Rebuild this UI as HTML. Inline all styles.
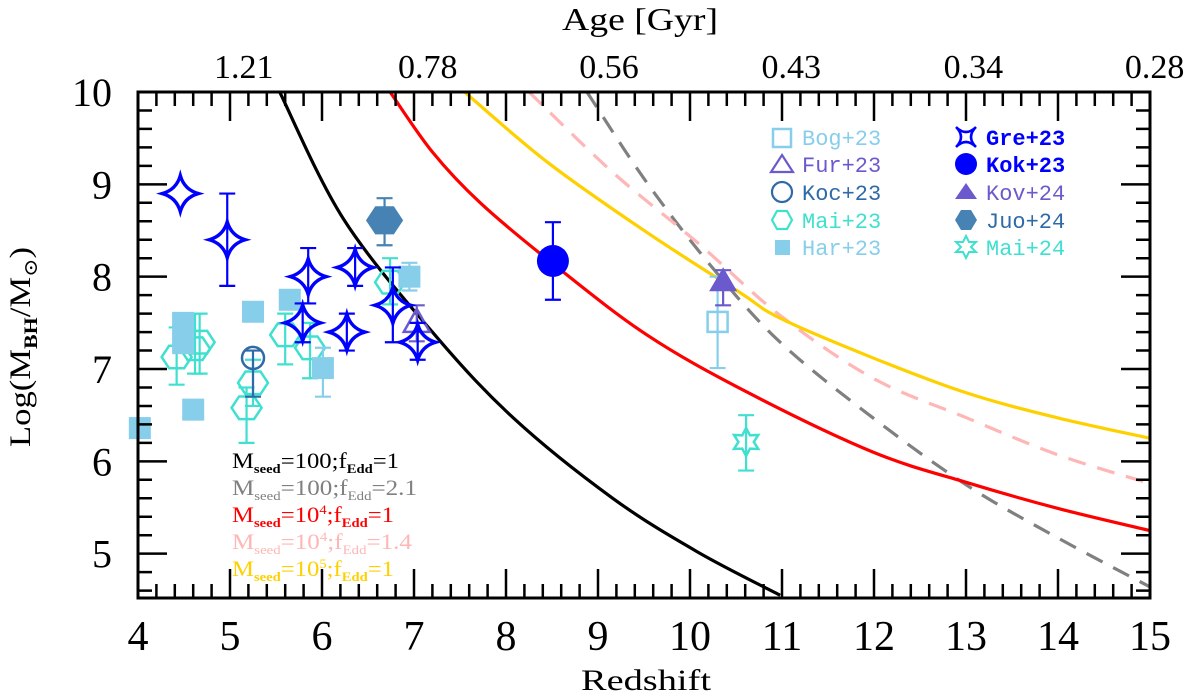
<!DOCTYPE html>
<html><head><meta charset="utf-8">
<style>
html,body{margin:0;padding:0;background:#fff;}
svg{display:block;}
text{font-family:"Liberation Serif","DejaVu Serif",serif;}
.mono{font-family:"Liberation Mono","DejaVu Sans Mono",monospace;}
</style></head>
<body>
<svg id="chart" width="1200" height="697" viewBox="0 0 1200 697" xmlns="http://www.w3.org/2000/svg">
<g id="curves"></g>
<g id="points"></g>
<g id="axes"></g>
<g id="legend"></g>
</svg>
<script>
// ---- axis domain ----
const xMin = 4, xMax = 15, yMin = 4.52, yMax = 10;
const xTicks = [4,5,6,7,8,9,10,11,12,13,14,15];
const yTicks = [5,6,7,8,9,10];
const ageLabels = ["1.21","0.78","0.56","0.43","0.34","0.28"];
const ageLabelZ = [5.15,7.15,9.12,11.1,13.08,15.05];

// ---- model curves (redshift, logM) ----
const blackZ = [5.54,6.23,7.20,8.08,9.16,10.08,10.98];
const blackY = [10,8.63,7.40,6.47,5.60,5.02,4.55];
const redZ = [6.74,7.2,7.72,8.51,9.53,10.62,11.99,13.01,14.0,15];
const redY = [10,9.35,8.8,8.14,7.37,6.75,6.10,5.77,5.49,5.25];
const goldZ = [7.55,8.45,9.53,10.54,10.98,11.99,13.01,14.0,15];
const goldY = [10,9.24,8.48,7.83,7.55,7.12,6.74,6.47,6.25];
const pinkZ = [8.25,9.16,10.08,10.98,11.99,13.01,14.0,15];
const pinkY = [10,9.13,8.37,7.58,6.90,6.47,6.07,5.76];
const grayZ = [8.88,9.53,10.25,10.98,11.99,13.01,14.0,15];
const grayY = [10,9.02,8.09,7.29,6.47,5.74,5.17,4.64];

// ---- observational data ----
const greZ = [4.46,4.97,5.85,5.79,6.36,6.27,6.77,7.04];
const greY = [8.90,8.40,8.00,7.50,8.10,7.40,7.69,7.29];
const greLo = [8.90,7.90,7.71,7.29,7.90,7.20,7.29,7.10];
const greHi = [8.90,8.90,8.31,7.71,8.31,7.60,8.10,7.50];
const harZ = [4.02,4.49,4.49,4.60,5.25,5.65,6.01,6.95];
const harY = [6.36,7.50,7.28,6.56,7.62,7.75,7.01,8.00];
const harLo = [6.36,7.50,7.28,6.56,7.62,7.75,6.70,7.85];
const harHi = [6.36,7.50,7.28,6.56,7.62,7.75,7.23,8.15];
const maiZ = [4.42,4.67,4.62,5.25,5.18,5.60,5.87,6.74];
const maiY = [7.13,7.29,7.22,6.85,6.58,7.37,7.23,7.94];
const maiLo = [6.83,6.95,6.95,6.60,6.20,7.05,6.90,7.70];
const maiHi = [7.45,7.60,7.60,7.10,6.80,7.60,7.50,8.20];
const kocZ = [5.25], kocY = [7.12], kocLo = [6.70], kocHi = [7.20];
const juoZ = [6.68], juoY = [8.61], juoLo = [8.34], juoHi = [8.85];
const furZ = [7.03], furY = [7.50], furLo = [7.30], furHi = [7.69];
const kokZ = [8.51], kokY = [8.17], kokLo = [7.75], kokHi = [8.59];
const kovZ = [10.36], kovY = [7.94], kovLo = [7.69], kovHi = [8.07];
const bogZ = [10.30], bogY = [7.51], bogLo = [7.01], bogHi = [8.00];
const mai24Z = [10.61], mai24Y = [6.21], mai24Lo = [5.90], mai24Hi = [6.50];

const L = 138, R = 1150, T = 92, B = 598;
const sx = z => L + (z - xMin) / (xMax - xMin) * (R - L);
const sy = v => B - (v - yMin) / (yMax - yMin) * (B - T);
const NS = "http://www.w3.org/2000/svg";
function mk(tag, attrs, parent){
  const e = document.createElementNS(NS, tag);
  for (const k in attrs) e.setAttribute(k, attrs[k]);
  parent.appendChild(e); return e;
}
const curves = document.getElementById('curves');
const points = document.getElementById('points');
const axes = document.getElementById('axes');

const defs = mk('defs', {}, document.getElementById('chart'));
const cp = mk('clipPath', {id:'plotclip'}, defs);
mk('rect', {x:L, y:T, width:R-L, height:B-T}, cp);
curves.setAttribute('clip-path','url(#plotclip)');

function catmull(zs, ys){
  const p = zs.map((z,i)=>[sx(z), sy(ys[i])]);
  let d = `M${p[0][0]},${p[0][1]}`;
  for (let i=0;i<p.length-1;i++){
    const p0 = p[i-1]||p[i], p1=p[i], p2=p[i+1], p3=p[i+2]||p[i+1];
    const c1=[p1[0]+(p2[0]-p0[0])/6, p1[1]+(p2[1]-p0[1])/6];
    const c2=[p2[0]-(p3[0]-p1[0])/6, p2[1]-(p3[1]-p1[1])/6];
    d += ` C${c1[0]},${c1[1]} ${c2[0]},${c2[1]} ${p2[0]},${p2[1]}`;
  }
  return d;
}
function curve(zs, ys, color, dash, name){
  const e = mk('path', {d:catmull(zs,ys), fill:'none', stroke:color, 'stroke-width':3.2}, curves);
  if (dash) e.setAttribute('stroke-dasharray', dash);
  
  
}
curve(grayZ, grayY, '#808080', '18,12', 'curve-seed100-fedd2.1');
curve(pinkZ, pinkY, '#ffb6b6', '18,12', 'curve-seed1e4-fedd1.4');
curve(blackZ, blackY, '#000', null, 'curve-seed100-fedd1');
curve(redZ, redY, '#ff0000', null, 'curve-seed1e4-fedd1');
curve(goldZ, goldY, '#ffd000', null, 'curve-seed1e5-fedd1');

function astroid(cx, cy, r){
  const k = r*0.22;
  return `M${cx},${cy-r} Q${cx+k},${cy-k} ${cx+r},${cy} Q${cx+k},${cy+k} ${cx},${cy+r} Q${cx-k},${cy+k} ${cx-r},${cy} Q${cx-k},${cy-k} ${cx},${cy-r}Z`;
}
function hexPts(cx, cy, r){
  let s=[]; for(let i=0;i<6;i++){const a=i*Math.PI/3; s.push((cx+r*Math.cos(a))+','+(cy+r*0.87*Math.sin(a)));} return s.join(' ');
}
function star6(cx, cy, r){
  let s=[]; for(let i=0;i<12;i++){const a=-Math.PI/2+i*Math.PI/6; const rr=i%2?r*0.55:r; s.push((cx+rr*Math.cos(a))+','+(cy+rr*Math.sin(a)));} return s.join(' ');
}
function errbar(z, lo, hi, color, name){
  if (hi - lo < 0.01) return;
  const x = sx(z);
  const g = mk('path', {d:`M${x},${sy(lo)}V${sy(hi)}M${x-8},${sy(lo)}H${x+8}M${x-8},${sy(hi)}H${x+8}`, stroke:color, 'stroke-width':2.2, fill:'none'}, points);
  
  
}
function series(zs, ys, lo, hi, color, kind, name){
  zs.forEach((z,i)=>{
    errbar(z, lo[i], hi[i], color, name);
    const x = sx(z), y = sy(ys[i]);
    let e;
    if (kind==='astroid') e = mk('path',{d:astroid(x,y,18),fill:'none',stroke:color,'stroke-width':3.4,'stroke-linejoin':'miter'},points);
    else if (kind==='hex') e = mk('polygon',{points:hexPts(x,y,15),fill:'none',stroke:color,'stroke-width':2.5},points);
    else if (kind==='hexfill') e = mk('polygon',{points:hexPts(x,y,18),fill:color,stroke:color,'stroke-width':1},points);
    else if (kind==='sqfill') e = mk('rect',{x:x-11,y:y-11,width:22,height:22,fill:color},points);
    else if (kind==='sq') e = mk('rect',{x:x-10,y:y-10,width:20,height:20,fill:'none',stroke:color,'stroke-width':2.5},points);
    else if (kind==='circ') e = mk('circle',{cx:x,cy:y,r:11,fill:'none',stroke:color,'stroke-width':2.5},points);
    else if (kind==='circfill') e = mk('circle',{cx:x,cy:y,r:16,fill:color},points);
    else if (kind==='tri') e = mk('polygon',{points:`${x},${y-14} ${x+13},${y+9} ${x-13},${y+9}`,fill:'none',stroke:color,'stroke-width':2.5},points);
    else if (kind==='trifill') e = mk('polygon',{points:`${x},${y-15} ${x+14},${y+9} ${x-14},${y+9}`,fill:color},points);
    else if (kind==='star6') e = mk('polygon',{points:star6(x,y,14),fill:'none',stroke:color,'stroke-width':2.5},points);
    
    
  });
}
series(maiZ, maiY, maiLo, maiHi, '#40e0d0', 'hex', 'mai23');
series(harZ, harY, harLo, harHi, '#87ceeb', 'sqfill', 'har23');
series(kocZ, kocY, kocLo, kocHi, '#2e6aa8', 'circ', 'koc23');
series(juoZ, juoY, juoLo, juoHi, '#4682b4', 'hexfill', 'juo24');
series(furZ, furY, furLo, furHi, '#6a5acd', 'tri', 'fur23');
series(greZ, greY, greLo, greHi, '#0000ff', 'astroid', 'gre23');
series(kokZ, kokY, kokLo, kokHi, '#0000ff', 'circfill', 'kok23');
series(bogZ, bogY, bogLo, bogHi, '#87ceeb', 'sq', 'bog23');
series(kovZ, kovY, kovLo, kovHi, '#6a5acd', 'trifill', 'kov24');
series(mai24Z, mai24Y, mai24Lo, mai24Hi, '#40e0d0', 'star6', 'mai24');

const fr = mk('rect',{x:L,y:T,width:R-L,height:B-T,fill:'none',stroke:'#000','stroke-width':3},axes);


let td = '';
for (let z=xMin; z<=xMax+1e-6; z+=0.2){
  const major = Math.abs(z-Math.round(z))<1e-6, len = major?29:14, x=sx(z);
  td += `M${x},${B}V${B-len}M${x},${T}V${T+len}`;
}
for (let v=4.6; v<=yMax+1e-6; v+=0.2){
  const major = Math.abs(v-Math.round(v))<1e-6, len = major?29:14, y=sy(v);
  td += `M${L},${y}H${L+len}M${R},${y}H${R-len}`;
}
const tk = mk('path',{d:td,stroke:'#000','stroke-width':2.5,fill:'none'},axes);


xTicks.forEach(z=>{
  const t = mk('text',{x:sx(z),y:650,'font-size':42,'text-anchor':'middle'},axes);
  t.textContent = z;
  
  
});
yTicks.forEach(v=>{
  const t = mk('text',{x:112,y:sy(v)+14,'font-size':40,'text-anchor':'end'},axes);
  t.textContent = v;
  
  
});
ageLabels.forEach((a,i)=>{
  const t = mk('text',{x:sx(ageLabelZ[i]),y:78,'font-size':34,'text-anchor':'middle'},axes);
  t.textContent = a;
  
  
});
</script>
<svg style="position:absolute;left:0;top:0" width="1200" height="697">
<text x="646" y="690" font-size="30" text-anchor="middle" textLength="130" lengthAdjust="spacingAndGlyphs">Redshift</text>
<text x="640" y="30" font-size="32" text-anchor="middle" textLength="156" lengthAdjust="spacingAndGlyphs">Age [Gyr]</text>
<text transform="translate(30,347) rotate(-90)" font-size="30" text-anchor="middle" textLength="200" lengthAdjust="spacingAndGlyphs">Log(M<tspan font-size="19" dy="7" font-weight="bold">BH</tspan><tspan dy="-7">/M</tspan><tspan font-size="19" dy="7">⊙</tspan><tspan dy="-7">)</tspan></text>
<g font-size="22">
 <g><rect x="773" y="129" width="18" height="18" fill="none" stroke="#87ceeb" stroke-width="2.5"/><text class="mono" x="802" y="145" fill="#87ceeb" font-size="22">Bog+23</text></g>
 <g><polygon points="782,155 793,172 771,172" fill="none" stroke="#6a5acd" stroke-width="2.2"/><text class="mono" x="802" y="172" fill="#6a5acd" font-size="22">Fur+23</text></g>
 <g><circle cx="782" cy="192" r="10" fill="none" stroke="#2e6aa8" stroke-width="2.2"/><text class="mono" x="802" y="200" fill="#2e6aa8" font-size="22">Koc+23</text></g>
 <g><polygon points="792,220 787,229 777,229 772,220 777,211 787,211" fill="none" stroke="#40e0d0" stroke-width="2.2"/><text class="mono" x="802" y="228" fill="#40e0d0" font-size="22">Mai+23</text></g>
 <g><rect x="775" y="240" width="15" height="15" fill="#87ceeb"/><text class="mono" x="802" y="255" fill="#87ceeb" font-size="22">Har+23</text></g>
 <g><path d="M956,127 Q966,137 976,127 Q966,137 976,147 Q966,137 956,147 Q966,137 956,127Z" fill="none" stroke="#0000ff" stroke-width="2.5"/><text class="mono" x="986" y="145" fill="#0000ff" font-size="22" font-weight="bold">Gre+23</text></g>
 <g><circle cx="966" cy="164" r="11" fill="#0000ff"/><text class="mono" x="986" y="172" fill="#0000ff" font-size="22" font-weight="bold">Kok+23</text></g>
 <g><polygon points="966,183 977,199 955,199" fill="#6a5acd"/><text class="mono" x="986" y="200" fill="#6a5acd" font-size="22">Kov+24</text></g>
 <g><polygon points="977,220 971,230 961,230 955,220 961,210 971,210" fill="#4682b4"/><text class="mono" x="986" y="228" fill="#2e6aa8" font-size="22">Juo+24</text></g>
 <g><polygon points="966,236 969,242 976,242 971,247 976,252 969,252 966,258 963,252 956,252 961,247 956,242 963,242" fill="none" stroke="#40e0d0" stroke-width="2"/><text class="mono" x="986" y="255" fill="#40e0d0" font-size="22">Mai+24</text></g>
</g>
<g font-size="22">
 <text x="232" y="468" fill="#000" textLength="167" lengthAdjust="spacingAndGlyphs">M<tspan font-size="13" font-weight="bold" dy="5">seed</tspan><tspan dy="-5">=100;f</tspan><tspan font-size="13" font-weight="bold" dy="5">Edd</tspan><tspan dy="-5">=1</tspan></text>
 <text x="232" y="495" fill="#808080" textLength="185" lengthAdjust="spacingAndGlyphs">M<tspan font-size="13" dy="5">seed</tspan><tspan dy="-5">=100;f</tspan><tspan font-size="13" dy="5">Edd</tspan><tspan dy="-5">=2.1</tspan></text>
 <text x="232" y="522" fill="#ff0000" textLength="162" lengthAdjust="spacingAndGlyphs">M<tspan font-size="13" font-weight="bold" dy="5">seed</tspan><tspan dy="-5">=10</tspan><tspan font-size="13" dy="-8">4</tspan><tspan dy="8">;f</tspan><tspan font-size="13" font-weight="bold" dy="5">Edd</tspan><tspan dy="-5">=1</tspan></text>
 <text x="232" y="549" fill="#ffb6b6" textLength="180" lengthAdjust="spacingAndGlyphs">M<tspan font-size="13" dy="5">seed</tspan><tspan dy="-5">=10</tspan><tspan font-size="13" dy="-8">4</tspan><tspan dy="8">;f</tspan><tspan font-size="13" dy="5">Edd</tspan><tspan dy="-5">=1.4</tspan></text>
 <text x="232" y="576" fill="#ffd000" textLength="162" lengthAdjust="spacingAndGlyphs">M<tspan font-size="13" font-weight="bold" dy="5">seed</tspan><tspan dy="-5">=10</tspan><tspan font-size="13" dy="-8">5</tspan><tspan dy="8">;f</tspan><tspan font-size="13" font-weight="bold" dy="5">Edd</tspan><tspan dy="-5">=1</tspan></text>
</g>
</svg>
</body></html>
